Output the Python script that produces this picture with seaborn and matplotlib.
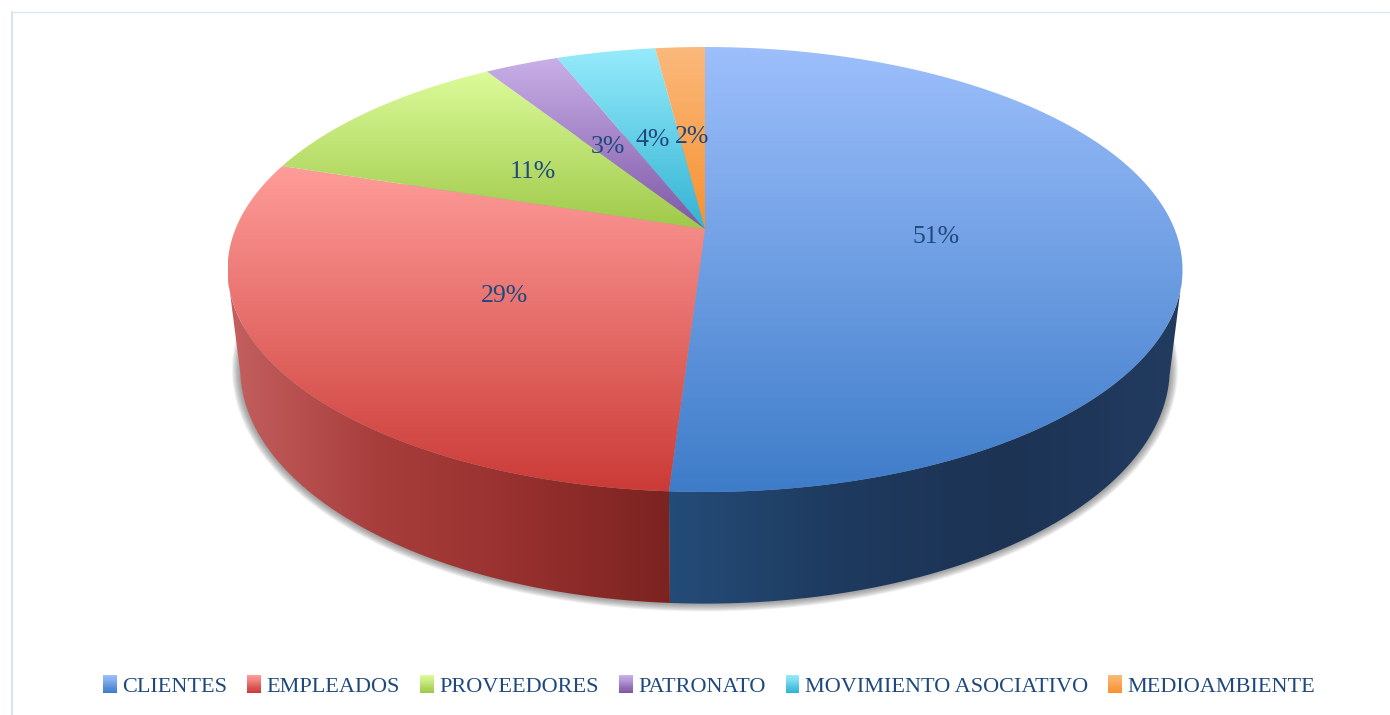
import numpy as np
import matplotlib
matplotlib.use('Agg')
import matplotlib.pyplot as plt
import seaborn as sns
from matplotlib.legend_handler import HandlerBase
from matplotlib.patches import Polygon, Rectangle

categories = ['CLIENTES', 'EMPLEADOS', 'PROVEEDORES', 'PATRONATO', 'MOVIMIENTO ASOCIATIVO', 'MEDIOAMBIENTE']
values = [51, 29, 11, 3, 4, 2]

top_light = ['#9DBFFC', '#FF9D9A', '#DCFB9A', '#C9B0E8', '#96EBFB', '#FBB97C']
top_dark = ['#3E7CC9', '#CB3B37', '#9FC94A', '#7E57A6', '#33B3D4', '#F79130']
side_stops = {
    'CLIENTES': ['#244C78', '#1E3A5E', '#1C3354', '#223C60'],
    'EMPLEADOS': ['#C46060', '#A83E3C', '#96302E', '#7B2321'],
}
text_color = '#1F497D'
border_color = '#D6E4F3'

sns.set_theme(style='white')
plt.rcParams['font.family'] = ['Liberation Serif', 'DejaVu Serif']

# perspective of the disc, everything in image pixels
K = 0.182
X0 = 705
TOP = dict(a=469.5, b=215.1, y0=229)
BOTTOM = dict(a=457, b=227.5, y0=325.5)


def project(t, a, b, y0, r=1.0):
    u, v = r * np.sin(t), r * np.cos(t)
    d = 1 + K * v
    return X0 + a * u / d, y0 - b * v / d


def gradient(ax, poly, colors, horizontal=False):
    # fill a polygon with a blended palette, clipped to its outline
    cmap = sns.blend_palette(colors, n_colors=128, as_cmap=True)
    ramp = np.linspace(0, 1, 256)
    ramp = ramp[None, :] if horizontal else ramp[:, None]
    x0, y0 = poly.min(axis=0)
    x1, y1 = poly.max(axis=0)
    im = ax.imshow(ramp, cmap=cmap, aspect='auto', extent=(x0, x1, y1, y0),
                   origin='upper', interpolation='bilinear', zorder=3)
    im.set_clip_path(Polygon(poly, closed=True, transform=ax.transData))
    return im


class GradientHandle(HandlerBase):
    # legend key drawn as thin strips going from light to dark
    def create_artists(self, legend, orig, xdescent, ydescent, width, height, fontsize, trans):
        colors = sns.blend_palette([orig.light, orig.dark], n_colors=16)
        h = height / 16
        strips = []
        for i, c in enumerate(colors):
            y = -ydescent + height - (i + 1) * h
            strips.append(Rectangle((-xdescent, y), width, h * 1.05, facecolor=c,
                                    edgecolor='none', transform=trans))
        return strips


fig = plt.figure(figsize=(13.9, 7.15), dpi=100)
ax = fig.add_axes([0, 0, 1, 1])
ax.set_axis_off()

edges = np.radians(np.concatenate([[0], np.cumsum(values)]) * 3.6)

# soft shadow under the disc
full = np.linspace(0, 2 * np.pi, 361)
for d in range(1, 9):
    sx, sy = project(full, BOTTOM['a'] + d, BOTTOM['b'] + d * 0.8, BOTTOM['y0'])
    ax.fill(sx, sy, color='#555555', alpha=0.09, lw=0, zorder=1)

# front wall, cut where the top and bottom outlines share their tangent
for i, name in enumerate(categories):
    if name not in side_stops:
        continue
    t = np.linspace(edges[i], edges[i + 1], 240)
    t = t[np.cos(t) < -0.2]
    xt, yt = project(t, **TOP)
    xb, yb = project(t, **BOTTOM)
    poly = np.column_stack([np.r_[xt, xb[::-1]], np.r_[yt, yb[::-1]]])
    gradient(ax, poly, side_stops[name], horizontal=True)

# top face and labels
for i, name in enumerate(categories):
    t = np.linspace(edges[i], edges[i + 1], 240)
    xt, yt = project(t, **TOP)
    poly = np.column_stack([np.r_[X0, xt], np.r_[TOP['y0'], yt]])
    im = gradient(ax, poly, [top_light[i], top_dark[i]])
    im.set_zorder(4)
    lx, ly = project((edges[i] + edges[i + 1]) / 2, r=0.49, **TOP)
    ax.text(lx, ly + 4.5, f'{values[i]}%', color=text_color, fontsize=18.5,
            ha='center', va='center', zorder=6)

# frame lines of the pasted picture
ax.plot([12, 12], [11, 715], color=border_color, lw=1.5, solid_capstyle='butt', zorder=2)
ax.plot([11, 1390], [11.5, 11.5], color=border_color, lw=0.8, solid_capstyle='butt', zorder=2)

ax.set_xlim(0, 1390)
ax.set_ylim(715, 0)

handles = []
for i, name in enumerate(categories):
    h = Rectangle((0, 0), 1, 1, label=name)
    h.light, h.dark = top_light[i], top_dark[i]
    handles.append(h)

leg = ax.legend(handles=handles, ncol=6, frameon=False, loc='center',
                bbox_to_anchor=(709 / 1390, 1 - 686 / 715), fontsize=16,
                handler_map={Rectangle: GradientHandle()},
                handlelength=0.62, handleheight=0.85, handletextpad=0.25,
                columnspacing=0.9, labelcolor=text_color, borderpad=0)
leg.set_zorder(7)

fig.savefig('out.png', dpi=100, facecolor='white')
